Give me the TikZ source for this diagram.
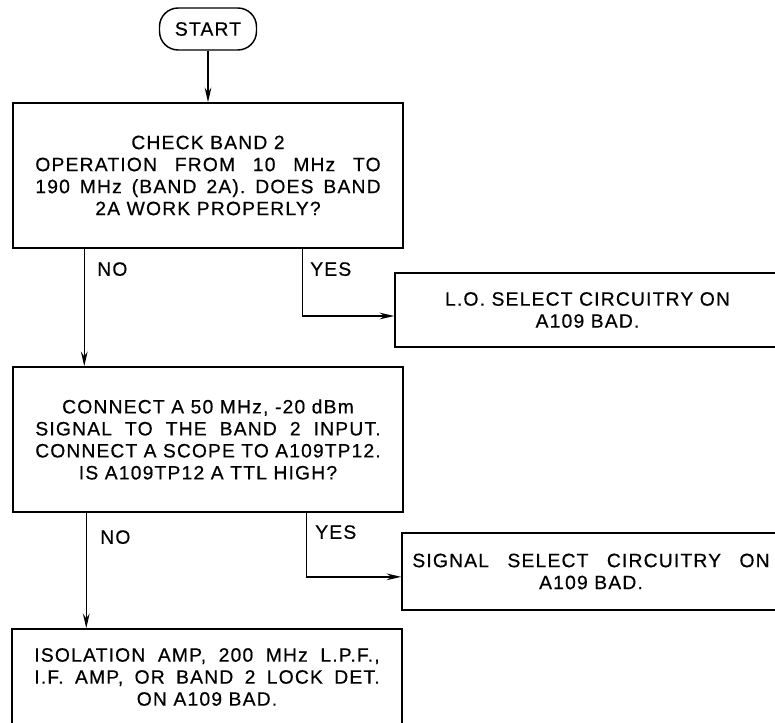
\documentclass[tikz,border=0pt]{standalone}
\usepackage{fontspec}
\usepackage{graphicx}
\newfontfamily\flowfont[LetterSpace=6, FakeBold=0.5]{Liberation Sans}
\usetikzlibrary{positioning, arrows.meta}

% one line spread over the box width (squeezed if it is too long)
\newsavebox\linebox
\newcommand{\fullline}[2][259pt]{%
  \sbox\linebox{#2}%
  \ifdim\wd\linebox>#1\relax\resizebox{#1}{\height}{\usebox\linebox}%
  \else\makebox[#1][s]{#2}\fi}

\begin{document}
\begin{tikzpicture}[x=0.75pt, y=-0.75pt,
    every node/.style={font=\flowfont\fontsize{14.5}{16.5}\selectfont},
    box/.style={draw, line width=1.1pt, inner sep=0pt, align=center},
    term/.style={draw, line width=1.1pt, rounded corners=14pt, inner sep=0pt,
      minimum width=72.75pt, minimum height=31.5pt},
    flow/.style={line width=1.1pt, -{Stealth[length=11pt, width=5pt]}},
    answer/.style={anchor=north west, inner sep=0pt}]
        \useasboundingbox (0,0) rectangle (775,722);
        \clip (0,0) rectangle (775,722);

        % Start
        \node[term] (start) at (208,29) {START};

        % First check
        \node[box, minimum width=292.5pt, minimum height=108.75pt] (check) at (208,175.5)
            {CHECK BAND 2\\
             \fullline{OPERATION FROM 10 MHz TO}\\
             \fullline{190 MHz (BAND 2A). DOES BAND}\\
             2A WORK PROPERLY?};

        % Second check
        \node[box, minimum width=292.5pt, minimum height=108.75pt] (test) at (208,439.5)
            {CONNECT A 50 MHz, -20 dBm\\
             \fullline{SIGNAL TO THE BAND 2 INPUT.}\\
             \fullline{CONNECT A SCOPE TO A109TP12.}\\
             IS A109TP12 A TTL HIGH?};

        % Results
        \node[box, minimum width=288.75pt, minimum height=55.5pt] (lobad) at (587.5,310)
            {L.O. SELECT CIRCUITRY ON\\ A109 BAD.};
        \node[box, minimum width=283.5pt, minimum height=57.75pt] (sigbad) at (591,571.5)
            {\fullline[268pt]{SIGNAL SELECT CIRCUITRY ON}\\ A109 BAD.};
        \node[box, minimum width=292.5pt, minimum height=72pt] (isoamp) at (207,677)
            {\fullline{ISOLATION AMP, 200 MHz L.P.F.,}\\
             \fullline{I.F. AMP, OR BAND 2 LOCK DET.}\\
             ON A109 BAD.};

        % Connectors
        \draw[flow] (start.south) -- (check.north);
        \draw[flow] ([xshift=54pt]check.south west) coordinate (no1base)
            -- (no1base |- test.north);
        \draw[flow] ([xshift=217.5pt]check.south west) |- ([yshift=-4.5pt]lobad.west);
        \draw[flow] ([xshift=55.5pt]test.south west) coordinate (no2base)
            -- (no2base |- isoamp.north);
        \draw[flow] ([xshift=220.5pt]test.south west) |- ([yshift=-4pt]sigbad.west);

        % Answers
        \node[answer] (no1) at (97,262) {NO};
        \node[answer] (yes1) at (310,262) {YES};
        \node[answer] (no2) at (100,530) {NO};
        \node[answer] (yes2) at (315,525) {YES};
    \end{tikzpicture}
\end{document}
